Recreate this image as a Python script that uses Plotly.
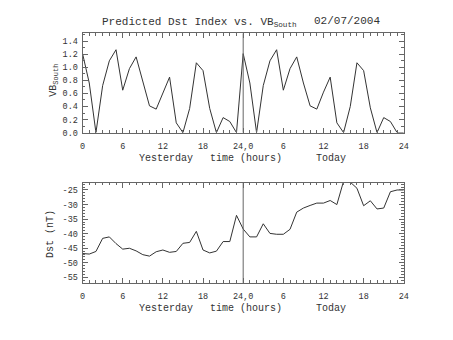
import plotly.graph_objects as go

hours = list(range(0, 49))
vb_south = [1.21, 0.76, 0.0, 0.72, 1.10, 1.27, 0.65, 0.98, 1.16, 0.78, 0.41, 0.36,
            0.62, 0.85, 0.15, 0.0, 0.37, 1.07, 0.95, 0.37, 0.0, 0.23, 0.17, 0.0,
            1.21, 0.76, 0.0, 0.72, 1.10, 1.27, 0.65, 0.98, 1.16, 0.76, 0.41, 0.36,
            0.62, 0.85, 0.15, 0.0, 0.40, 1.07, 0.95, 0.38, 0.0, 0.23, 0.17, 0.0, 0.0]
dst = [-46.8, -47.0, -46.1, -41.6, -41.1, -43.4, -45.3, -45.0, -45.9, -47.2, -47.7, -46.2,
       -45.6, -46.4, -46.1, -43.3, -43.0, -39.2, -45.6, -46.6, -46.0, -42.7, -42.7, -33.7,
       -38.4, -41.1, -41.1, -36.6, -39.9, -40.2, -40.2, -38.5, -32.6, -31.2, -30.3, -29.5,
       -29.5, -28.6, -30.0, -22.0, -22.3, -24.4, -30.4, -28.7, -31.5, -31.2, -25.6, -25.0, -25.0]

xtick_vals = [0, 6, 12, 18, 24, 30, 36, 42, 48]
xtick_text = ["0", "6", "12", "18", "24,0", "6", "12", "18", "24"]
vb_ticks = [0.0, 0.2, 0.4, 0.6, 0.8, 1.0, 1.2, 1.4]
dst_ticks = [-55, -50, -45, -40, -35, -30, -25]

FONT = "Liberation Mono"
TXT = "#333333"
LC = "#333333"
AC = "#666666"

fig = go.Figure()
fig.add_trace(go.Scatter(x=hours, y=vb_south, mode="lines", line=dict(color=LC, width=1),
                         xaxis="x", yaxis="y", showlegend=False))
fig.add_trace(go.Scatter(x=hours, y=dst, mode="lines", line=dict(color=LC, width=1),
                         xaxis="x2", yaxis="y2", showlegend=False))

W, H = 453, 340
xdom = [81 / W, 408 / W]
ax_common = dict(showgrid=False, zeroline=False, showline=True, linecolor=AC, linewidth=1,
                 mirror="ticks", ticks="inside", ticklen=5, tickcolor=AC,
                 tickfont=dict(family=FONT, size=8.5, color=TXT))
xax = dict(ax_common, range=[0, 48], tickmode="array", tickvals=xtick_vals, ticktext=xtick_text,
           ticklabelstandoff=5,
           minor=dict(tickmode="linear", tick0=0, dtick=1, ticks="inside", ticklen=2.5,
                      tickcolor=AC, showgrid=False))

fig.update_layout(
    width=W, height=H, margin=dict(l=0, r=0, t=0, b=0),
    paper_bgcolor="white", plot_bgcolor="white",
    xaxis=dict(xax, domain=xdom, anchor="y"),
    yaxis=dict(ax_common, domain=[1 - 135 / H, 1 - 34 / H], range=[0, 1.52], anchor="x",
               tickmode="array", tickvals=vb_ticks, ticktext=[f"{v:.1f}" for v in vb_ticks],
               ticklabelstandoff=2,
               minor=dict(tickmode="linear", tick0=0, dtick=0.1, ticks="inside", ticklen=2.5,
                          tickcolor=AC, showgrid=False)),
    xaxis2=dict(xax, domain=xdom, anchor="y2"),
    yaxis2=dict(ax_common, domain=[1 - 288 / H, 1 - 186 / H], range=[-56.9, -22.5], anchor="x2",
                tickmode="array", tickvals=dst_ticks, ticktext=[str(v) for v in dst_ticks],
                ticklabelstandoff=2,
                minor=dict(tickmode="linear", tick0=-55, dtick=1, ticks="inside", ticklen=2.5,
                           tickcolor=AC, showgrid=False)),
    shapes=[
        dict(type="line", xref="x", yref="y domain", x0=24, x1=24, y0=0, y1=1,
             line=dict(color=AC, width=1)),
        dict(type="line", xref="x2", yref="y2 domain", x0=24, x1=24, y0=0, y1=1,
             line=dict(color=AC, width=1)),
    ],
)

def ann(text, x, y, size=10, xanchor="center", angle=0):
    fig.add_annotation(text=text, x=x / W, y=1 - y / H, xref="paper", yref="paper",
                       showarrow=False, xanchor=xanchor, yanchor="middle", textangle=angle,
                       font=dict(family=FONT, size=size, color=TXT))

ann("Predicted Dst Index vs. VB<sub>South</sub>", 99, 23, size=11, xanchor="left")
ann("02/07/2004", 386, 21, size=11, xanchor="right")
ann("VB<sub>South</sub>", 51, 82, size=10, angle=-90)
ann("Dst (nT)", 49, 238, size=10, angle=-90)
for yy in (161, 314):
    ann("Yesterday", 166, yy, size=10)
    ann("time (hours)", 247, yy, size=10)
    ann("Today", 334, yy, size=10)

fig.write_html("out.html")
